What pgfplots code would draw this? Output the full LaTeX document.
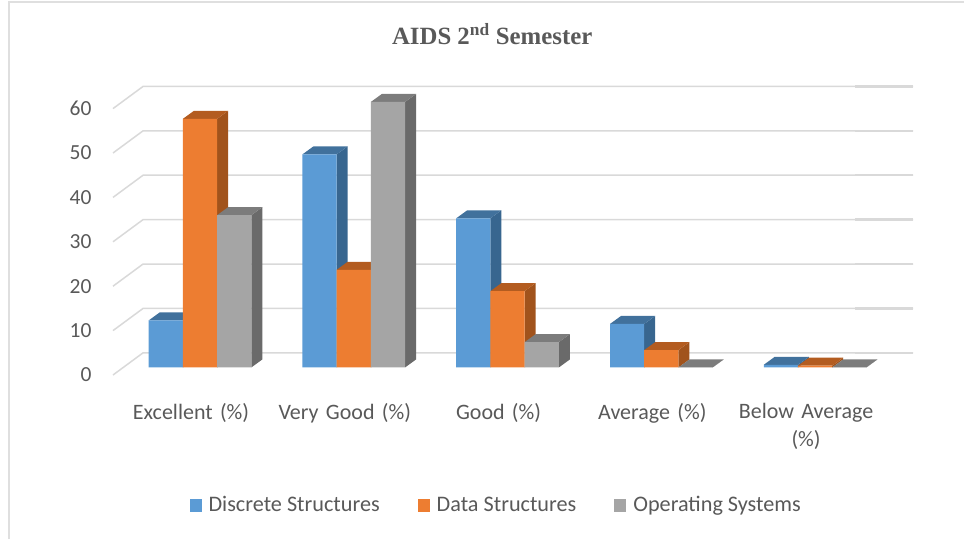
\documentclass[border=0pt]{standalone}
\usepackage{pgfplots}
\pgfplotsset{compat=1.18}
\usepackage{fontspec}
\setmainfont{Carlito}
\newfontfamily\titlefont{Liberation Serif}
\definecolor{bf}{HTML}{5B9BD5}\definecolor{bs}{HTML}{38668F}\definecolor{bt}{HTML}{41719C}
\definecolor{of}{HTML}{ED7D31}\definecolor{os}{HTML}{A1531C}\definecolor{ot}{HTML}{B35C20}
\definecolor{gf}{HTML}{A5A5A5}\definecolor{gs}{HTML}{6A6A6A}\definecolor{gt}{HTML}{7C7C7C}
\definecolor{txt}{HTML}{595959}\definecolor{gridc}{HTML}{D9D9D9}
\newcommand\dpx{0.0715}\newcommand\dpy{1.8}
% side and top faces of one bar: category, offset of its left edge, value, letter of colours
\newcommand\faces[4]{%
 \pgfmathsetmacro\xl{#1+#2}\pgfmathsetmacro\xr{#1+#2+0.2224}%
 \pgfmathsetmacro\xld{\xl+\dpx}\pgfmathsetmacro\xrd{\xr+\dpx}\pgfmathsetmacro\yt{#3+\dpy}%
 \addplot[forget plot,fill=#4s,draw=none] coordinates {(\xr,0)(\xr,#3)(\xrd,\yt)(\xrd,\dpy)} -- cycle;
 \addplot[forget plot,fill=#4t,draw=none] coordinates {(\xl,#3)(\xr,#3)(\xrd,\yt)(\xld,\yt)} -- cycle;
}
\newcommand\gridl[1]{%
 \pgfmathsetmacro\yf{#1-1.7}\pgfmathsetmacro\yb{#1+3.29}%
 \addplot[forget plot,draw=gridc,line width=1.5pt] coordinates {(-0.566,\yf)(-0.3707,\yb)(4.637,\yb)};
 \addplot[forget plot,draw=gridc,line width=2.4pt] coordinates {(4.26,\yb)(4.637,\yb)};
}
\begin{document}
\begin{tikzpicture}[x=1pt,y=1pt]
\useasboundingbox (0,0) rectangle (964,539);
\draw[gridc!85,line width=2pt] (9,0) -- (9,537) -- (964,537);
\begin{axis}[
 at={(113pt,164pt)},anchor=south west,
 scale only axis,width=800pt,height=289pt,
 xmin=-0.566,xmax=4.637,ymin=-1.7,ymax=63.39,
 clip=false,
 axis line style={draw=none},tick style={draw=none},
 /pgf/number format/assume math mode=true,
 xtick={0,1,2,3,4},
 xticklabels={Excellent (\%),Very Good (\%),Good (\%),Average (\%),{Below Average\\(\%)}},
 x tick label style={text width=170pt,align=center,font=\fontsize{22}{28}\selectfont,text=txt,yshift=-25pt,xshift=-9pt},
 ytick={0,10,20,30,40,50,60},
 y tick label style={font=\fontsize{21.5}{24}\selectfont,text=txt,xshift=-18pt,yshift=-7.5pt},
 title={\titlefont\bfseries AIDS 2\textsuperscript{nd} Semester},
 title style={at={(axis description cs:0.474,1.158)},anchor=center,font=\fontsize{24.8}{28}\selectfont,text=txt},
 legend columns=3,
 legend style={at={(axis description cs:0.479,-0.451)},anchor=center,draw=none,fill=none,
   font=\fontsize{22.2}{26}\selectfont,text=txt,
   nodes={text height=18pt,text depth=5pt},
   /tikz/every even column/.append style={column sep=36pt}},
 legend image code/.code={\fill[#1] (0pt,-6.5pt) rectangle (12pt,6.5pt);\path (17pt,0pt);},
]
\gridl{0}\gridl{10}\gridl{20}\gridl{30}\gridl{40}\gridl{50}\gridl{60}
% Discrete Structures
\faces{0}{-0.3336}{10.6}{b}\faces{1}{-0.3336}{48}{b}\faces{2}{-0.3336}{33.6}{b}\faces{3}{-0.3336}{9.8}{b}\faces{4}{-0.3336}{0.6}{b}
\addplot[ybar,bar width=34.2pt,bar shift=-34.2pt,fill=bf,draw=none] coordinates {(0,10.6)(1,48)(2,33.6)(3,9.8)(4,0.6)};
\addlegendentry{Discrete Structures}
% Data Structures
\faces{0}{-0.1112}{56}{o}\faces{1}{-0.1112}{22}{o}\faces{2}{-0.1112}{17.2}{o}\faces{3}{-0.1112}{3.9}{o}\faces{4}{-0.1112}{0.4}{o}
\addplot[ybar,bar width=34.2pt,bar shift=0pt,fill=of,draw=none] coordinates {(0,56)(1,22)(2,17.2)(3,3.9)(4,0.4)};
\addlegendentry{Data Structures}
% Operating Systems
\faces{0}{0.1112}{34.3}{g}\faces{1}{0.1112}{59.8}{g}\faces{2}{0.1112}{5.7}{g}\faces{3}{0.1112}{0}{g}\faces{4}{0.1112}{0}{g}
\addplot[ybar,bar width=34.2pt,bar shift=34.2pt,fill=gf,draw=none] coordinates {(0,34.3)(1,59.8)(2,5.7)(3,0)(4,0)};
\addlegendentry{Operating Systems}
\end{axis}
\end{tikzpicture}
\end{document}
